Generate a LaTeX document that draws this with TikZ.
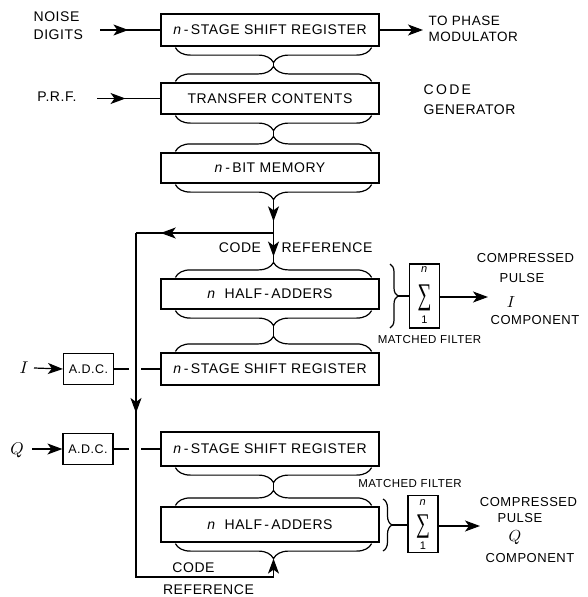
\documentclass[tikz,border=0pt]{standalone}
\usepackage{fontspec}
\usepackage{graphicx}
\setmainfont{Liberation Sans}[LetterSpace=4]
\newfontfamily\sumfont{Liberation Serif}
\usetikzlibrary{arrows.meta,decorations.pathreplacing,decorations.markings,calc}
\begin{document}
\begin{tikzpicture}[x=1pt,y=-1pt,line width=1.2pt,
  >={Stealth[length=15pt,width=11pt,inset=4pt]},
  box/.style={draw,minimum width=218pt,minimum height=#1,inner sep=0pt,font=\fontsize{14}{16}\selectfont},
  adc/.style={draw,minimum width=50pt,minimum height=31pt,inner sep=0pt,font=\fontsize{12.5}{14}\selectfont},
  sumbox/.style={draw,minimum width=30pt,minimum height=#1,inner sep=0pt},
  lbl/.style={font=\fontsize{14}{18}\selectfont,inner sep=0pt},
  slbl/.style={font=\fontsize{13}{15}\selectfont,inner sep=0pt},
  mlbl/.style={font=\fontsize{11.5}{13}\selectfont,inner sep=0pt},
  lim/.style={font=\fontsize{11}{11}\selectfont,inner sep=0pt},
  sig/.style={font=\fontsize{30}{30}\sumfont,inner sep=0pt},
  brc/.style={decorate,decoration={brace,amplitude=#1}},
  midarrow/.style={postaction={decorate},decoration={markings,mark=at position #1 with {\arrow{>}}}}
]
\useasboundingbox (0,0) rectangle (588,597);

% main boxes
\node[box=32pt] (A) at (270,30) {\textit{n}\,-\,STAGE SHIFT REGISTER};
\node[box=31pt] (B) at (270,98.5) {TRANSFER CONTENTS};
\node[box=30pt] (C) at (270,168) {\textit{n}\,-\,BIT MEMORY};
\node[box=30pt] (D) at (270,294) {\textit{n}\ \ HALF\,-\,ADDERS};
\node[box=32pt] (E) at (270,369) {\textit{n}\,-\,STAGE SHIFT REGISTER};
\node[box=34pt] (F) at (270,449) {\textit{n}\,-\,STAGE SHIFT REGISTER};
\node[box=35pt] (G) at (270,524.5) {\textit{n}\ \ HALF\,-\,ADDERS};

% braces below boxes
\draw[brc=15pt] ([xshift=-8pt,yshift=-1pt]A.south east) -- ([xshift=15pt,yshift=-1pt]A.south west);
\draw[brc=15pt] ([xshift=-8pt,yshift=-1pt]B.south east) -- ([xshift=15pt,yshift=-1pt]B.south west);
\draw[brc=15pt] ([xshift=-8pt,yshift=-1pt]C.south east) -- ([xshift=15pt,yshift=-1pt]C.south west);
\draw[brc=15pt] ([xshift=-8pt,yshift=-1pt]D.south east) -- ([xshift=15pt,yshift=-1pt]D.south west);
\draw[brc=15pt] ([xshift=-8pt,yshift=-1pt]F.south east) -- ([xshift=15pt,yshift=-1pt]F.south west);
\draw[brc=15pt] ([xshift=-8pt,yshift=-1pt]G.south east) -- ([xshift=15pt,yshift=-1pt]G.south west);
% braces above boxes
\draw[brc=15pt] ([xshift=15pt,yshift=1pt]B.north west) -- ([xshift=-8pt,yshift=1pt]B.north east);
\draw[brc=15pt] ([xshift=15pt,yshift=1pt]C.north west) -- ([xshift=-8pt,yshift=1pt]C.north east);
\draw[brc=15pt] ([xshift=15pt,yshift=1pt]D.north west) -- ([xshift=-8pt,yshift=1pt]D.north east);
\draw[brc=15pt] ([xshift=15pt,yshift=1pt]E.north west) -- ([xshift=-8pt,yshift=1pt]E.north east);
\draw[brc=15pt] ([xshift=15pt,yshift=1pt]G.north west) -- ([xshift=-8pt,yshift=1pt]G.north east);

% brace tips
\coordinate (Ab) at ($(A.south)+(3.5,16)$);
\coordinate (Bt) at ($(B.north)+(3.5,-16)$);
\coordinate (Bb) at ($(B.south)+(3.5,16)$);
\coordinate (Ct) at ($(C.north)+(3.5,-16)$);
\coordinate (Cb) at ($(C.south)+(3.5,16)$);
\coordinate (Dt) at ($(D.north)+(3.5,-16)$);
\coordinate (Db) at ($(D.south)+(3.5,16)$);
\coordinate (Et) at ($(E.north)+(3.5,-16)$);
\coordinate (Fb) at ($(F.south)+(3.5,16)$);
\coordinate (Gt) at ($(G.north)+(3.5,-16)$);
\coordinate (Gb) at ($(G.south)+(3.5,16)$);

% stems between braces
\draw (Ab) -- (Bt);
\draw (Bb) -- (Ct);
\draw (Db) -- (Et);
\draw (Fb) -- (Gt);

% code reference lines
\coordinate (J) at (Cb |- 0,233);
\coordinate (L1) at (136,233);
\coordinate (L2) at (136,577);
\coordinate (L3) at (Gb |- L2);
\draw[midarrow=0.65] (Cb) -- (J);
\draw[midarrow=0.8] (J) -- (Dt);
\draw[midarrow=0.82] (J) -- (L1);
\draw[midarrow=0.36,->] (L1) -- (L2) -- (L3) -- (Gb);

\node[lbl] (cr1) at (240,248) {CODE};
\node[lbl] (cr2) at (327,248) {REFERENCE};
\node[lbl] (cr3) at (193.5,568) {CODE};
\node[lbl] (cr4) at (208.5,590) {REFERENCE};

% code generator inputs / outputs
\node[lbl,align=left,anchor=west] (noise) at (33,26) {NOISE\\DIGITS};
\coordinate (nin) at (100,30);
\draw[midarrow=0.47] (nin) -- (A.west);
\node[lbl] (prf) at (57,97) {P.R.F.};
\coordinate (pin) at (97,98.5);
\draw[midarrow=0.45] (pin) -- (B.west);
\coordinate (pout) at (423,30);
\draw[->] (A.east) -- (pout);
\node[font=\fontsize{13.5}{16}\selectfont,inner sep=0pt,align=left,anchor=west] (phase) at (428,29) {TO PHASE\\MODULATOR};
\node[font=\fontsize{14}{20}\selectfont,inner sep=0pt,align=left,anchor=west] (codegen) at (423,100) {C\,O\,D\,E\\GENERATOR};

% A.D.C. inputs
\node[adc] (adcI) at (88.5,369) {A.D.C.};
\node[adc] (adcQ) at (88,449) {A.D.C.};
\node[inner sep=0pt] (inI) at (24,368) {\scalebox{1.7}{$I$}};
\node[inner sep=0pt] (inQ) at (17,450) {\scalebox{1.7}{$Q$}};
\draw[->] ([xshift=5pt]inI.east) -- (adcI.west);
\draw[->] ([xshift=8pt]inQ.east |- adcQ.west) -- (adcQ.west);
\coordinate (gI1) at (129,369);
\coordinate (gI2) at (141,369);
\coordinate (gQ1) at (129,449);
\coordinate (gQ2) at (141,449);
\draw (adcI.east) -- (gI1);
\draw (gI2) -- (E.west);
\draw (adcQ.east) -- (gQ1);
\draw (gQ2) -- (F.west);

% matched filter, I channel
\node[sumbox=64pt] (sumI) at (424.5,296) {};
\node[sig] (sigI) at (424.5,298) {\scalebox{0.65}[1]{∑}};
\node[lim] (nI) at (424.5,270) {\textit{n}};
\node[lim] (oneI) at (424.5,320) {1};
\draw[brc=8pt] (390,264) -- (390,328);
\coordinate (mfI) at (398,296);
\draw (mfI) -- (sumI.west);
\coordinate (outI) at (488,297);
\draw[->] (sumI.east |- outI) -- (outI);
\node[mlbl] (mfIl) at (429.5,340) {MATCHED FILTER};
\node[slbl] (cpI1) at (525.5,258) {COMPRESSED};
\node[slbl] (cpI2) at (522,278) {PULSE};
\node[inner sep=0pt] (cpI3) at (511,302) {\scalebox{1.6}{$I$}};
\node[slbl] (cpI4) at (535,320) {COMPONENT};

% matched filter, Q channel
\node[sumbox=57pt] (sumQ) at (423,524) {};
\node[sig] (sigQ) at (423,527) {\scalebox{0.65}[0.9]{∑}};
\node[lim] (nQ) at (423,503) {\textit{n}};
\node[lim] (oneQ) at (423,546) {1};
\draw[brc=9pt] (383,499) -- (383,551);
\coordinate (mfQ) at (392,525);
\draw (mfQ) -- (sumQ.west |- mfQ);
\coordinate (outQ) at (480,526);
\draw[->] (sumQ.east |- outQ) -- (outQ);
\node[mlbl] (mfQl) at (410,484) {MATCHED FILTER};
\node[slbl] (cpQ1) at (528.5,502) {COMPRESSED};
\node[slbl] (cpQ2) at (520,518) {PULSE};
\node[inner sep=0pt] (cpQ3) at (515,538) {\scalebox{1.6}{$Q$}};
\node[slbl] (cpQ4) at (530,558) {COMPONENT};
\end{tikzpicture}
\end{document}
